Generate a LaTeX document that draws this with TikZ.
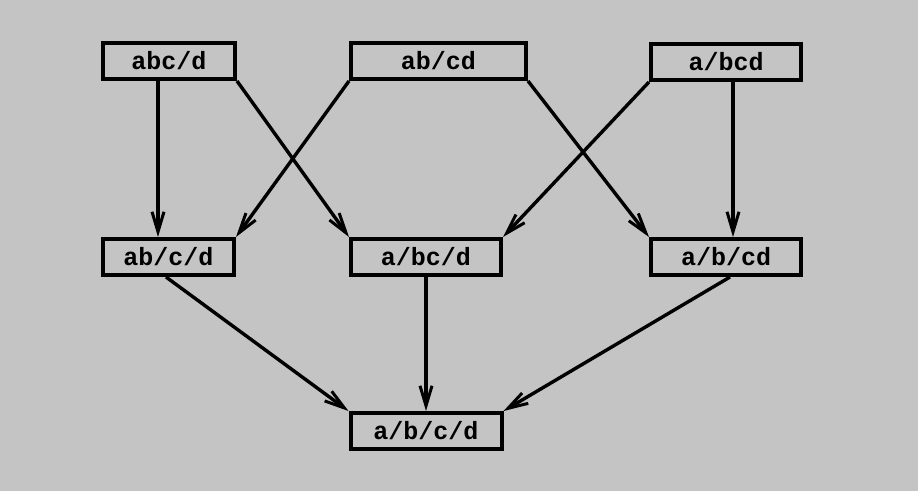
\documentclass[tikz,border=0pt]{standalone}
\usepackage{fontspec}
\setmonofont{Liberation Mono}
\usetikzlibrary{arrows.meta}
\definecolor{bg}{gray}{0.77}
\tikzset{
  box/.style={draw=black, line width=4pt, fill=bg, minimum height=36pt, inner sep=0pt,
    font=\ttfamily\bfseries\fontsize{25}{25}\selectfont},
  link/.style={line width=3.4pt, -{Straight Barb[length=20pt,width=12pt,line width=3pt]}}
}
\begin{document}
\begin{tikzpicture}[x=1pt,y=-1pt]
\fill[bg] (0,0) rectangle (918,491);
\useasboundingbox (0,0) rectangle (918,491);
\node[box, minimum width=132pt] (t1) at (169,61) {abc/d};
\node[box, minimum width=175pt] (t2) at (438.5,61) {ab/cd};
\node[box, minimum width=150pt] (t3) at (726,62) {a/bcd};
\node[box, minimum width=131pt] (m1) at (168.5,257) {ab/c/d};
\node[box, minimum width=150pt] (m2) at (426,257) {a/bc/d};
\node[box, minimum width=150pt] (m3) at (726,257) {a/b/cd};
\node[box, minimum width=151pt] (b) at (426,431) {a/b/c/d};
\draw[link] ([xshift=-11pt]t1.south) -- ([xshift=-10.5pt]m1.north);
\draw[link] (t1.south east) -- (m2.north west);
\draw[link] (t2.south west) -- (m1.north east);
\draw[link] (t2.south east) -- (m3.north west);
\draw[link] (t3.south west) -- (m2.north east);
\draw[link] ([xshift=7pt]t3.south) -- ([xshift=7pt]m3.north);
\draw[link] ([xshift=-2.5pt]m1.south) -- (b.north west);
\draw[link] (m2.south) -- (b.north);
\draw[link] ([xshift=4pt]m3.south) -- (b.north east);
\end{tikzpicture}
\end{document}
